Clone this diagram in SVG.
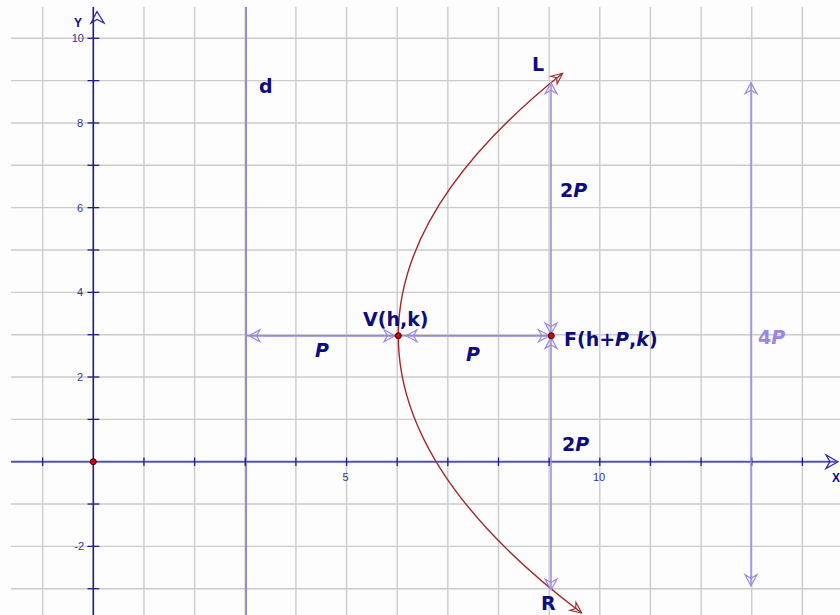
<svg xmlns="http://www.w3.org/2000/svg" width="840" height="615" viewBox="0 0 840 615">
<style>
.grid line{stroke:#cbcbcb;stroke-width:1.4}
.tick{stroke:#1c1c96;stroke-width:1.3}
.tl{font-family:"Liberation Sans",Arial,sans-serif;font-size:11px;fill:#3434a0}
.lab{font-family:"DejaVu Sans",Verdana,sans-serif;font-weight:bold;font-size:19px;fill:#0c0c80}
.it{font-style:italic}
.arr{fill:none;stroke:#9a88e0;stroke-width:1.5}
.pt{fill:#e00000;stroke:#300000;stroke-width:1}
</style>
<defs>
<marker id="pa" markerUnits="userSpaceOnUse" markerWidth="14" markerHeight="14" viewBox="-12 -7 14 14" refX="0" refY="0" orient="auto-start-reverse" overflow="visible">
<path d="M0,0 L-11,-6 L-7.5,0 L-11,6 Z" fill="none" stroke="#9a88e0" stroke-width="1.2"/>
</marker>
<marker id="ra" markerUnits="userSpaceOnUse" markerWidth="14" markerHeight="14" viewBox="-12 -7 14 14" refX="0" refY="0" orient="auto-start-reverse" overflow="visible">
<path d="M0,0 L-11,-5 L-7.5,0 L-11,5 Z" fill="none" stroke="#a02828" stroke-width="1.1"/>
</marker>
</defs>
<rect width="840" height="615" fill="#fdfdfd"/>
<g id="grid" class="grid">
<line x1="42.65" y1="7" x2="42.65" y2="615"/>
<line x1="143.95" y1="7" x2="143.95" y2="615"/>
<line x1="194.6" y1="7" x2="194.6" y2="615"/>
<line x1="245.25" y1="7" x2="245.25" y2="615"/>
<line x1="295.9" y1="7" x2="295.9" y2="615"/>
<line x1="346.55" y1="7" x2="346.55" y2="615"/>
<line x1="397.2" y1="7" x2="397.2" y2="615"/>
<line x1="447.85" y1="7" x2="447.85" y2="615"/>
<line x1="498.5" y1="7" x2="498.5" y2="615"/>
<line x1="549.15" y1="7" x2="549.15" y2="615"/>
<line x1="599.8" y1="7" x2="599.8" y2="615"/>
<line x1="650.45" y1="7" x2="650.45" y2="615"/>
<line x1="701.1" y1="7" x2="701.1" y2="615"/>
<line x1="751.75" y1="7" x2="751.75" y2="615"/>
<line x1="802.4" y1="7" x2="802.4" y2="615"/>
<line x1="11" y1="38.3" x2="840" y2="38.3"/>
<line x1="11" y1="80.64" x2="840" y2="80.64"/>
<line x1="11" y1="122.98" x2="840" y2="122.98"/>
<line x1="11" y1="165.32" x2="840" y2="165.32"/>
<line x1="11" y1="207.66" x2="840" y2="207.66"/>
<line x1="11" y1="250" x2="840" y2="250"/>
<line x1="11" y1="292.34" x2="840" y2="292.34"/>
<line x1="11" y1="334.68" x2="840" y2="334.68"/>
<line x1="11" y1="377.02" x2="840" y2="377.02"/>
<line x1="11" y1="419.36" x2="840" y2="419.36"/>
<line x1="11" y1="504.04" x2="840" y2="504.04"/>
<line x1="11" y1="546.38" x2="840" y2="546.38"/>
<line x1="11" y1="588.72" x2="840" y2="588.72"/>
</g>
<g id="directrix">
<line x1="246" y1="7" x2="246" y2="615" stroke="#9a88e0" stroke-width="2"/>
<text class="lab" x="259" y="93" font-size="17">d</text>
</g>
<g id="axes">
<line x1="11" y1="461.7" x2="836" y2="461.7" stroke="#5353b6" stroke-width="2"/>
<line x1="93.3" y1="7" x2="93.3" y2="615" stroke="#1a1a9a" stroke-width="1.6"/>
<path d="M838,461.7 L826,455 L830,461.7 L826,468.5 Z" fill="none" stroke="#2a2aa0" stroke-width="1.3"/>
<path d="M97,11.5 L91,23 L97,19.5 L104,23 Z" fill="none" stroke="#2a2aa0" stroke-width="1.3"/>
<text x="74" y="27" font-family="Liberation Sans,Arial,sans-serif" font-weight="bold" font-size="12" fill="#0c0c80">Y</text>
<text x="832" y="482" font-family="Liberation Sans,Arial,sans-serif" font-weight="bold" font-size="12" fill="#0c0c80">X</text>
<g class="tick">
<line x1="42.65" y1="457.5" x2="42.65" y2="466"/>
<line x1="143.95" y1="457.5" x2="143.95" y2="466"/>
<line x1="194.6" y1="457.5" x2="194.6" y2="466"/>
<line x1="245.25" y1="457.5" x2="245.25" y2="466"/>
<line x1="295.9" y1="457.5" x2="295.9" y2="466"/>
<line x1="346.55" y1="457.5" x2="346.55" y2="466"/>
<line x1="397.2" y1="457.5" x2="397.2" y2="466"/>
<line x1="447.85" y1="457.5" x2="447.85" y2="466"/>
<line x1="498.5" y1="457.5" x2="498.5" y2="466"/>
<line x1="549.15" y1="457.5" x2="549.15" y2="466"/>
<line x1="599.8" y1="457.5" x2="599.8" y2="466"/>
<line x1="650.45" y1="457.5" x2="650.45" y2="466"/>
<line x1="701.1" y1="457.5" x2="701.1" y2="466"/>
<line x1="751.75" y1="457.5" x2="751.75" y2="466"/>
<line x1="802.4" y1="457.5" x2="802.4" y2="466"/>
<line x1="87.5" y1="38.3" x2="99.3" y2="38.3"/>
<line x1="87.5" y1="80.64" x2="99.3" y2="80.64"/>
<line x1="87.5" y1="122.98" x2="99.3" y2="122.98"/>
<line x1="87.5" y1="165.32" x2="99.3" y2="165.32"/>
<line x1="87.5" y1="207.66" x2="99.3" y2="207.66"/>
<line x1="87.5" y1="250" x2="99.3" y2="250"/>
<line x1="87.5" y1="292.34" x2="99.3" y2="292.34"/>
<line x1="87.5" y1="334.68" x2="99.3" y2="334.68"/>
<line x1="87.5" y1="377.02" x2="99.3" y2="377.02"/>
<line x1="87.5" y1="419.36" x2="99.3" y2="419.36"/>
<line x1="87.5" y1="504.04" x2="99.3" y2="504.04"/>
<line x1="87.5" y1="546.38" x2="99.3" y2="546.38"/>
<line x1="87.5" y1="588.72" x2="99.3" y2="588.72"/>
</g>
<g class="tl" text-anchor="end">
<text x="84" y="42.3">10</text>
<text x="83" y="127">8</text>
<text x="83" y="211.7">6</text>
<text x="83" y="296.3">4</text>
<text x="83" y="381">2</text>
<text x="84" y="550.4">-2</text>
</g>
<g class="tl" text-anchor="middle">
<text x="345.5" y="481">5</text>
<text x="599" y="481">10</text>
</g>
</g>
<g id="parabola">
<path d="M581.7,613 Q224.7,343.15 562.6,73.3" fill="none" stroke="#a02828" stroke-width="1.4" marker-start="url(#ra)" marker-end="url(#ra)"/>
</g>
<g id="connectors">
<line x1="246" y1="335.7" x2="551" y2="335.7" class="arr"/>
<path id="c-dV" class="arr" d="M249,335.7 H395" marker-start="url(#pa)" marker-end="url(#pa)"/>
<path id="c-VF" class="arr" d="M406,335.7 H549.5" marker-start="url(#pa)" marker-end="url(#pa)"/>
<path id="c-FL" class="arr" d="M551,82.7 V334" marker-start="url(#pa)" marker-end="url(#pa)"/>
<path id="c-FR" class="arr" d="M551,337.5 V590" marker-start="url(#pa)" marker-end="url(#pa)"/>
<path id="c-4P" class="arr" d="M751,82.7 V585.7" stroke="#a585e5" marker-start="url(#pa)" marker-end="url(#pa)"/>
</g>
<g id="origin"><circle class="pt" cx="93.3" cy="461.7" r="3"/></g>
<g id="vertex">
<circle class="pt" cx="398.3" cy="335.7" r="3"/>
<text class="lab" x="363" y="326">V(h,k)</text>
</g>
<g id="focus">
<circle class="pt" cx="551.3" cy="335.7" r="3"/>
<text class="lab" x="564" y="346">F(h+<tspan class="it">P</tspan>,<tspan class="it">k</tspan>)</text>
</g>
<g id="label-L"><text class="lab" x="532" y="70.7">L</text></g>
<g id="label-R"><text class="lab" x="541" y="610">R</text></g>
<g id="label-P1"><text class="lab it" x="315" y="357">P</text></g>
<g id="label-P2"><text class="lab it" x="466" y="361">P</text></g>
<g id="label-2P-top"><text class="lab" x="560" y="197">2<tspan class="it">P</tspan></text></g>
<g id="label-2P-bottom"><text class="lab" x="562" y="451">2<tspan class="it">P</tspan></text></g>
<g id="label-4P"><text class="lab" x="758" y="344" style="fill:#9a88e0">4<tspan class="it">P</tspan></text></g>
</svg>
